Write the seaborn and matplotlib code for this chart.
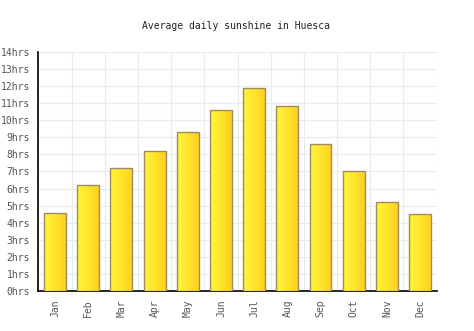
import numpy as np
import pandas as pd
import matplotlib
matplotlib.use("Agg")
import matplotlib.pyplot as plt
import seaborn as sns
from matplotlib.colors import LinearSegmentedColormap

months = ["Jan", "Feb", "Mar", "Apr", "May", "Jun", "Jul", "Aug", "Sep", "Oct", "Nov", "Dec"]
sunshine = [4.6, 6.2, 7.2, 8.2, 9.3, 10.6, 11.9, 10.8, 8.6, 7.0, 5.2, 4.5]
yticks = list(range(0, 15))
ytick_labels = [f"{v}hrs" for v in yticks]
title = "Average daily sunshine in Huesca"

sns.set_style("white")
plt.rcParams["font.family"] = ["DejaVu Sans Mono"]

df = pd.DataFrame({"month": months, "hours": sunshine})

fig = plt.figure(figsize=(4.74, 3.31), dpi=100)
ax = fig.add_axes([0.0812, 0.12, 0.84, 0.7238])

sns.barplot(data=df, x="month", y="hours", ax=ax, width=0.66,
            color="#FFE02A", edgecolor="#9C8C62", linewidth=1.0, zorder=3)

cmap = LinearSegmentedColormap.from_list("sun", ["#FFF53A", "#FFE52C", "#FFD020"])
grad = np.linspace(0, 1, 64).reshape(1, -1)
for p in list(ax.patches):
    x0, y0 = p.get_x(), p.get_y()
    w, h = p.get_width(), p.get_height()
    im = ax.imshow(grad, cmap=cmap, extent=[x0, x0 + w, y0, y0 + h],
                   aspect="auto", zorder=3, interpolation="bilinear")
    im.set_clip_path(p)
    p.set_facecolor("none")
    p.set_zorder(4)

ax.set_xlim(-0.5, len(months) - 0.5)
ax.set_ylim(0, 14)
ax.set_yticks(yticks)
ax.set_yticklabels(ytick_labels)
ax.set_xticks(range(len(months)))
ax.set_xticklabels(months, rotation=90)
ax.set_xticks(np.arange(-0.5, len(months), 1.0), minor=True)
ax.tick_params(axis="both", which="both", length=0, labelsize=7, labelcolor="#555555")
ax.tick_params(axis="y", pad=6)
ax.tick_params(axis="x", pad=6)

ax.grid(True, axis="y", which="major", color="#EBEBEB", linewidth=0.8, zorder=0)
ax.grid(True, axis="x", which="minor", color="#EBEBEB", linewidth=0.8, zorder=0)
ax.grid(False, axis="x", which="major")
ax.set_axisbelow(True)

for s in ["top", "right"]:
    ax.spines[s].set_visible(False)
for s in ["left", "bottom"]:
    ax.spines[s].set_visible(True)
    ax.spines[s].set_color("#000000")
    ax.spines[s].set_linewidth(1.2)

ax.set_xlabel("")
ax.set_ylabel("")
fig.text(0.4979, 1 - 26 / 331, title, ha="center", va="center", fontsize=7, color="#222222")

fig.savefig("out.png", dpi=100)
